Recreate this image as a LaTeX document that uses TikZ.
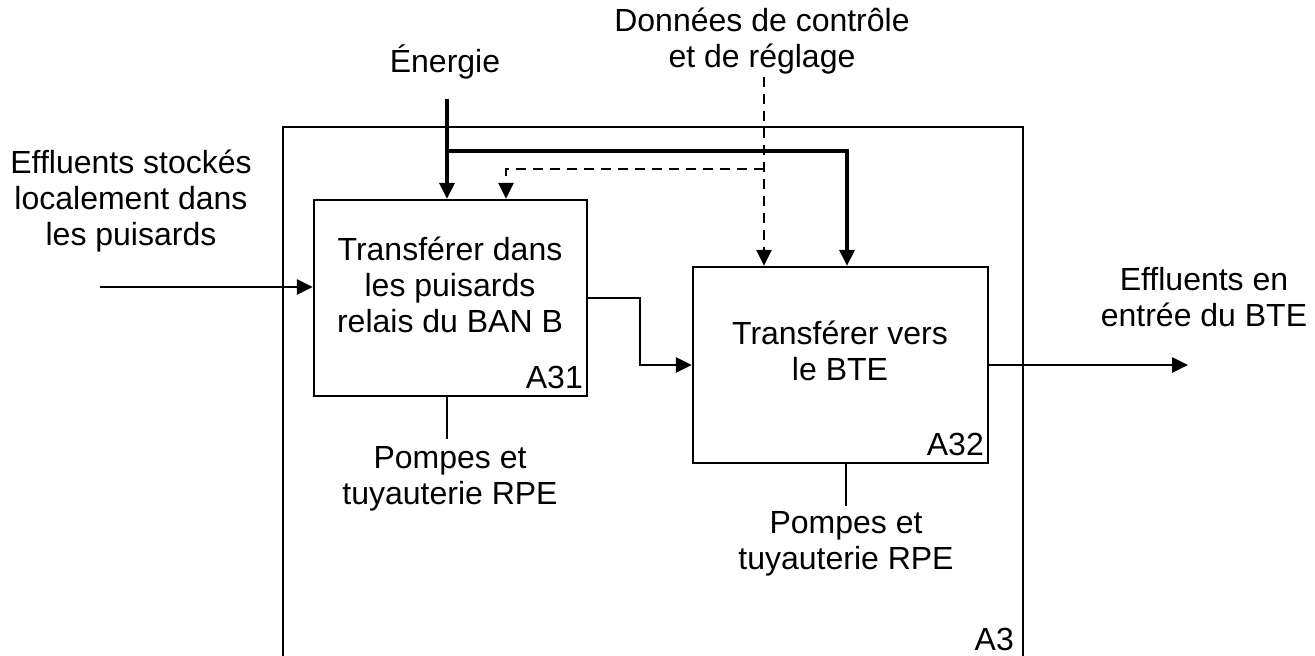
\documentclass[tikz,border=0pt]{standalone}
\usepackage{fontspec}
\setmainfont{Liberation Sans}
\usetikzlibrary{arrows.meta}
\begin{document}
\begin{tikzpicture}[x=1pt,y=-1pt,
  every node/.style={font=\fontsize{32}{36}\selectfont, inner sep=0pt},
  lbl/.style={align=center},
  boxst/.style={draw, line width=2.3pt},
  tip/.style={-{Triangle[length=16pt,width=15pt]}},
  flow/.style={line width=2.6pt, tip},
  plain/.style={line width=2.8pt},
  energy/.style={line width=3.4pt},
  ctrl/.style={line width=2.6pt, dash pattern=on 10pt off 7pt}
]
\useasboundingbox (0,0) rectangle (1315,656);
% outer frame A3
\draw[line width=2pt] (283,700) -- (283,127) -- (1023,127) -- (1023,700);
\node[anchor=base east] (n3) at (1014,650) {A3};

% activity boxes
\node[boxst, minimum width=273pt, minimum height=196pt] (a31) at (450.5,298) {};
\node[boxst, minimum width=295pt, minimum height=196pt] (a32) at (840.5,365) {};
\node[lbl] (t31) at (450,285) {Transférer dans\\les puisards\\relais du BAN B};
\node[lbl] (t32) at (840,351) {Transférer vers\\le BTE};
\node[anchor=base east] (n31) at (583,388) {A31};
\node[anchor=base east] (n32) at (984,455) {A32};

% labels
\node[lbl] (lin) at (131,201) {Effluents stockés\\localement dans\\les puisards};
\node[anchor=base] (len) at (445,72) {Énergie};
\node[lbl] (lctrl) at (762,41) {Données de contrôle\\et de réglage};
\node[lbl] (lout) at (1204,297) {Effluents en\\entrée du BTE};
\node[lbl] (lm1) at (450,479) {Pompes et\\tuyauterie RPE};
\node[lbl] (lm2) at (846,544) {Pompes et\\tuyauterie RPE};

% input
\coordinate (inS) at (100,287);
\draw[flow] (inS) -- (inS -| a31.west);
% A31 -> A32
\draw[flow] (a31.east) -| (640,330) |- (a32.west);
% output
\coordinate (out) at (1188,365);
\draw[flow] (a32.east) -- (a32.east -| out);

% energy
\coordinate (enS) at (447,99);
\coordinate (eb) at (447,151);
\coordinate (ex) at (847,151);
\draw[energy, tip] (enS) -- (enS |- a31.north);
\draw[energy, tip] (eb) -- (ex) -- (ex |- a32.north);

% control
\coordinate (cS) at (764,77);
\coordinate (cb) at (764,169);
\coordinate (cl) at (506,169);
\draw[ctrl, tip] (cS) -- (cS |- a32.north);
\draw[ctrl, tip] (cb) -- (cl) -- (cl |- a31.north);

% mechanisms
\coordinate (m1) at (447,439);
\coordinate (m2) at (846,506);
\draw[plain] (a31.south -| m1) -- (m1);
\draw[plain] (a32.south -| m2) -- (m2);
\end{tikzpicture}
\end{document}
